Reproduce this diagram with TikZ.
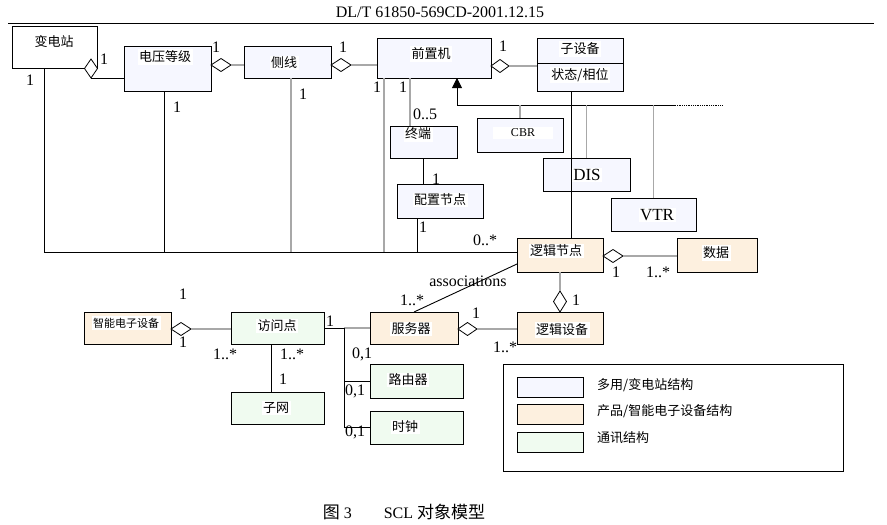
\documentclass[tikz,border=0pt]{standalone}
\usepackage{fontspec}
\setmainfont{Liberation Serif}
\newfontfamily\cjk{Noto Sans CJK SC}
\usetikzlibrary{shapes.geometric,arrows.meta}
\definecolor{subfill}{RGB}{246,247,255}
\definecolor{prodfill}{RGB}{253,240,223}
\definecolor{commfill}{RGB}{240,251,240}
\definecolor{linegray}{RGB}{168,168,168}
\begin{document}
\begin{tikzpicture}[x=1pt,y=-1pt,
  box/.style={draw, line width=0.9pt, inner sep=0pt, outer sep=0pt, anchor=north west},
  blu/.style={box, fill=subfill},
  org/.style={box, fill=prodfill},
  grn/.style={box, fill=commfill},
  zh/.style={font=\cjk\fontsize{13}{15}\selectfont, fill=white, inner sep=1.5pt},
  zhs/.style={font=\cjk\fontsize{11}{13}\selectfont, fill=white, inner sep=1.5pt},
  num/.style={font=\fontsize{16}{18}\selectfont, inner sep=0pt},
  big/.style={font=\fontsize{17}{19}\selectfont, fill=white, inner sep=1.5pt},
  agg/.style={diamond, draw, fill=white, inner sep=0pt, outer sep=0pt, line width=0.8pt},
  gry/.style={draw=linegray, line width=1.3pt},
  blk/.style={draw=black, line width=0.9pt},
  legtxt/.style={font=\cjk\fontsize{13}{15}\selectfont, anchor=west, inner sep=0pt}]
\useasboundingbox[fill=white] (0,0) rectangle (887,525);

% page header
\node[font=\fontsize{16}{18}\selectfont] (hdr) at (440,12) {DL/T 61850-569CD-2001.12.15};
\coordinate (ruleL) at (8,23);
\coordinate (ruleR) at (874,23);
\draw[line width=0.9pt] (ruleL) -- (ruleR);

% classes
\node[box, fill=white, minimum width=85pt, minimum height=42pt] (bdz) at (12,26) {};
\node[blu, minimum width=87pt, minimum height=45pt] (dyj) at (124,46) {};
\node[blu, minimum width=87pt, minimum height=32pt] (cx) at (244,46) {};
\node[blu, minimum width=114pt, minimum height=40pt] (qzj) at (377,38) {};
\node[blu, minimum width=86pt, minimum height=53pt] (zsb) at (537,38) {};
\node[blu, minimum width=67pt, minimum height=32pt] (zd) at (390,126) {};
\node[blu, minimum width=86pt, minimum height=34pt] (pz) at (397,184) {};
\node[blu, minimum width=86pt, minimum height=34pt] (cbr) at (477,118) {};
\node[blu, minimum width=87pt, minimum height=33pt] (dis) at (543,158) {};
\node[blu, minimum width=85pt, minimum height=33pt] (vtr) at (611,198) {};
\node[org, minimum width=86pt, minimum height=34pt] (ljjd) at (517,238) {};
\node[org, minimum width=80pt, minimum height=34pt] (sj) at (677,238) {};
\node[org, minimum width=86pt, minimum height=32pt] (ljsb) at (517,312) {};
\node[org, minimum width=88pt, minimum height=32pt] (fwq) at (370,312) {};
\node[org, minimum width=87pt, minimum height=32pt] (ied) at (84,312) {};
\node[grn, minimum width=93pt, minimum height=32pt] (fwd) at (231,312) {};
\node[grn, minimum width=93pt, minimum height=32pt] (zw) at (231,392) {};
\node[grn, minimum width=93pt, minimum height=34pt] (lyq) at (370,364) {};
\node[grn, minimum width=93pt, minimum height=33pt] (sz) at (370,411) {};
\draw[line width=0.9pt] ([yshift=-25pt]zsb.north west) -- ([yshift=-25pt]zsb.north east);

% class names
\node[zh, minimum width=78pt, minimum height=22pt] (tbdz) at (54,42) {变电站};
\node[zh] (tdyj) at (165,57) {电压等级};
\node[zh] (tcx) at (284,63) {侧线};
\node[zh] (tqzj) at (431,54) {前置机};
\node[zh] (tzsb) at (580,49) {子设备};
\node[zh] (tzt) at (580,75) {状态/相位};
\node[zh] (tzd) at (418,134) {终端};
\node[zh] (tpz) at (440,200) {配置节点};
\node[font=\fontsize{12}{14}\selectfont, fill=white, inner sep=1.5pt, minimum width=60pt] (tcbr) at (523,133) {CBR};
\node[big] (tdis) at (587,175) {DIS};
\node[big] (tvtr) at (657,215) {VTR};
\node[zh] (tljjd) at (556,251) {逻辑节点};
\node[zh] (tsj) at (716,253) {数据};
\node[zh] (tljsb) at (562,330) {逻辑设备};
\node[zh] (tfwq) at (411,329) {服务器};
\node[zhs] (tied) at (126,323) {智能电子设备};
\node[zh] (tfwd) at (277,326) {访问点};
\node[zh] (tzw) at (276,408) {子网};
\node[zh] (tlyq) at (408,380) {路由器};
\node[zh] (tsz) at (405,427) {时钟};

% connector points
\coordinate (bus) at (44,252);
\coordinate (c2) at (164,252);
\coordinate (c3) at (291,252);
\coordinate (c4) at (384,252);
\coordinate (c5) at (417,252);
\coordinate (c6) at (410,0);
\coordinate (c7) at (423,0);
\coordinate (c8) at (571,0);
\coordinate (c9) at (271,0);
\coordinate (c10) at (344,0);
\coordinate (gL) at (457,105);
\coordinate (gR) at (675,105);
\coordinate (gE) at (722,105);

% aggregation diamonds
\node[agg, minimum width=13pt, minimum height=19pt] (d1) at (91,68.5) {};
\node[agg, minimum width=20pt, minimum height=13pt] (d2) at (221,65) {};
\node[agg, minimum width=20pt, minimum height=13pt] (d3) at (341,65) {};
\node[agg, minimum width=18pt, minimum height=13pt] (d4) at (500,66) {};
\node[agg, minimum width=20pt, minimum height=13pt] (d5) at (613,256) {};
\node[agg, minimum width=13pt, minimum height=21pt] (d6) at (560,301.5) {};
\node[agg, minimum width=19pt, minimum height=13pt] (d7) at (467.5,329) {};
\node[agg, minimum width=20pt, minimum height=13pt] (d8) at (181,329) {};

% connectors
\draw[blk] (d1.south) -- (d1.south -| dyj.west);
\draw[gry] (d2.east) -- (d2.east -| cx.west);
\draw[gry] (d3.east) -- (d3.east -| qzj.west);
\draw[gry] (d4.east) -- (d4.east -| zsb.west);

\draw[blk] (bus |- bdz.south) -- (bus) -- (bus -| ljjd.west);
\draw[blk] (c2 |- dyj.south) -- (c2);
\draw[gry] (c3 |- cx.south) -- (c3);
\draw[gry] (c4 |- qzj.south) -- (c4);
\draw[blk] (c5 |- pz.south) -- (c5);
\draw[gry] (c6 |- qzj.south) -- (c6 |- zd.north);
\draw[blk] (c7 |- zd.south) -- (c7 |- pz.north);

% generalisation of the primary equipment
\draw[blk, -{Triangle[width=10pt,length=10pt]}] (gR) -- (gL) -- (gL |- qzj.south);
\draw[line width=0.8pt, densely dotted] (gR) -- (gE);
\draw[gry] (cbr.north |- gL) -- (cbr.north);
\draw[gry] (dis.north |- gL) -- (dis.north);
\draw[gry] (vtr.north |- gL) -- (vtr.north);
\draw[blk] (c8 |- zsb.south) -- (c8 |- ljjd.north);

\draw[gry] (d5.east) -- (d5.east -| sj.west);
\draw[gry] (d6.north |- ljjd.south) -- (d6.north);
\draw[blk] ([yshift=8pt]ljjd.south west) -- (fwq.north);
\draw[gry] (d7.east) -- (d7.east -| ljsb.west);
\draw[gry] (d8.east) -- (d8.east -| fwd.west);
\draw[blk] (c9 |- fwd.south) -- (c9 |- zw.north);
\draw[blk] (fwd.east) -- (fwd.east -| c10);
\draw[gry] (fwd.east -| c10) -- (fwd.east -| fwq.west);
\draw[blk] (fwd.east -| c10) -- (c10 |- sz.west) -- (sz.west);
\draw[blk] (c10 |- lyq.west) -- (lyq.west);

% multiplicities
\node[num] (m1) at (104,59) {1};
\node[num] (m2) at (30,80) {1};
\node[num] (m3) at (216,47) {1};
\node[num] (m4) at (343,47) {1};
\node[num] (m5) at (503,46) {1};
\node[num] (m6) at (177,107) {1};
\node[num] (m7) at (303,94) {1};
\node[num] (m8) at (377,87) {1};
\node[num] (m9) at (403,87) {1};
\node[num] (m10) at (425,114) {0..5};
\node[num] (m11) at (436,179) {1};
\node[num] (m12) at (423,227) {1};
\node[num] (m13) at (485,240) {0..*};
\node[num] (m14) at (616,272) {1};
\node[num] (m15) at (658,272) {1..*};
\node[num] (assoc) at (468,281) {associations};
\node[num] (m16) at (412,300) {1..*};
\node[num] (m17) at (576,300) {1};
\node[num] (m18) at (476,313) {1};
\node[num] (m19) at (505,347) {1..*};
\node[num] (m20) at (183,294) {1};
\node[num] (m21) at (183,342) {1};
\node[num] (m22) at (225,354) {1..*};
\node[num] (m23) at (292,354) {1..*};
\node[num] (m24) at (283,379) {1};
\node[num] (m25) at (330,321) {1};
\node[num] (m26) at (362,354) {0,1};
\node[num] (m27) at (355,391) {0,1};
\node[num] (m28) at (355,432) {0,1};

% legend
\node[box, minimum width=340pt, minimum height=107pt] (leg) at (503,364) {};
\node[blu, minimum width=66pt, minimum height=20pt] (sw1) at (517,377) {};
\node[org, minimum width=66pt, minimum height=20pt] (sw2) at (517,404) {};
\node[grn, minimum width=66pt, minimum height=20pt] (sw3) at (517,432) {};
\node[legtxt] (l1) at (597,385) {多用/变电站结构};
\node[legtxt] (l2) at (597,411) {产品/智能电子设备结构};
\node[legtxt] (l3) at (597,438) {通讯结构};

% caption
\node[font=\fontsize{16}{18}\selectfont] (cap) at (404,512) {{\cjk\fontsize{17}{19}\selectfont 图} 3\hspace{2em}SCL {\cjk\fontsize{17}{19}\selectfont 对象模型}};
\end{tikzpicture}
\end{document}
